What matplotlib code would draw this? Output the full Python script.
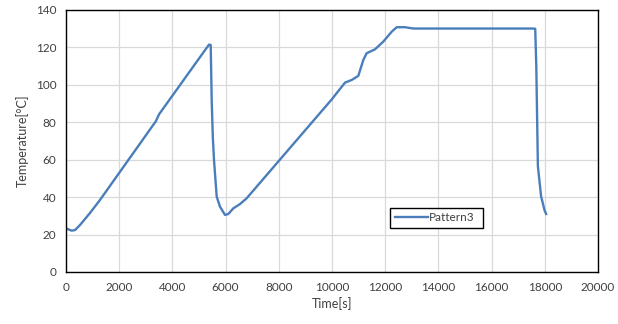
"""
Temperature profile (Pattern3) over time, Excel-style line chart.
"""

import matplotlib
matplotlib.use("Agg")
import matplotlib.pyplot as plt
from matplotlib.ticker import MultipleLocator

# Time [s] and temperature [°C]
time_s = [0, 214, 338, 526, 900, 1278, 3375, 3500, 5375, 5440, 5477, 5520,
          5564, 5665, 5789, 5977, 6102, 6290, 6541, 6792, 9988, 10489,
          10740, 10989, 11177, 11303, 11617, 11928, 12244, 12432, 12744,
          13057, 17490, 17640, 17680, 17740, 17860, 17990, 18050]
temp_c = [23.3, 22.1, 22.4, 25.1, 31.5, 38.5, 80.5, 84.3, 121.5, 121.3,
          91.9, 72, 59.9, 40.3, 34.9, 30.5, 31, 34, 36.3, 39.4, 92.2, 101.2,
          102.6, 104.8, 113.3, 116.9, 119, 123.1, 128.4, 130.8, 130.8,
          130.1, 130.1, 130, 110, 56.6, 40.5, 33, 31]
series_name = "Pattern3"

LINE_COLOR = "#4a7ebb"
TEXT_COLOR = "#404040"


def main():
    plt.rcParams["font.family"] = ["Lato", "DejaVu Sans"]
    fig = plt.figure(figsize=(6.18, 3.24), dpi=100)
    ax = fig.add_axes([66 / 618, 1 - 272 / 324, 532 / 618, 262 / 324])

    ax.plot(time_s, temp_c, color=LINE_COLOR, linewidth=1.7, label=series_name)

    ax.set_xlim(0, 20000)
    ax.set_ylim(0, 140)
    ax.xaxis.set_major_locator(MultipleLocator(2000))
    ax.yaxis.set_major_locator(MultipleLocator(20))
    ax.grid(True, color="#d9d9d9", linewidth=0.9)
    ax.set_axisbelow(True)
    for spine in ax.spines.values():
        spine.set_color("black")
        spine.set_linewidth(1.0)
    ax.tick_params(length=0, labelsize=8.5, colors=TEXT_COLOR, pad=7)
    ax.set_xlabel("Time[s]", fontsize=9, color=TEXT_COLOR, labelpad=3)
    ax.set_ylabel("Temperature[°C]", fontsize=9, color=TEXT_COLOR, labelpad=5)

    leg = ax.legend(loc="lower left", bbox_to_anchor=(0.609, 0.168, 0.175, 0.1),
                    mode="expand", fontsize=8.5, fancybox=False, framealpha=1,
                    edgecolor="black", handlelength=2.8, borderaxespad=0,
                    handletextpad=0.1)
    leg.get_frame().set_linewidth(1.0)
    for t in leg.get_texts():
        t.set_color(TEXT_COLOR)

    fig.savefig("out.png", dpi=100)
    plt.close(fig)


if __name__ == "__main__":
    main()
